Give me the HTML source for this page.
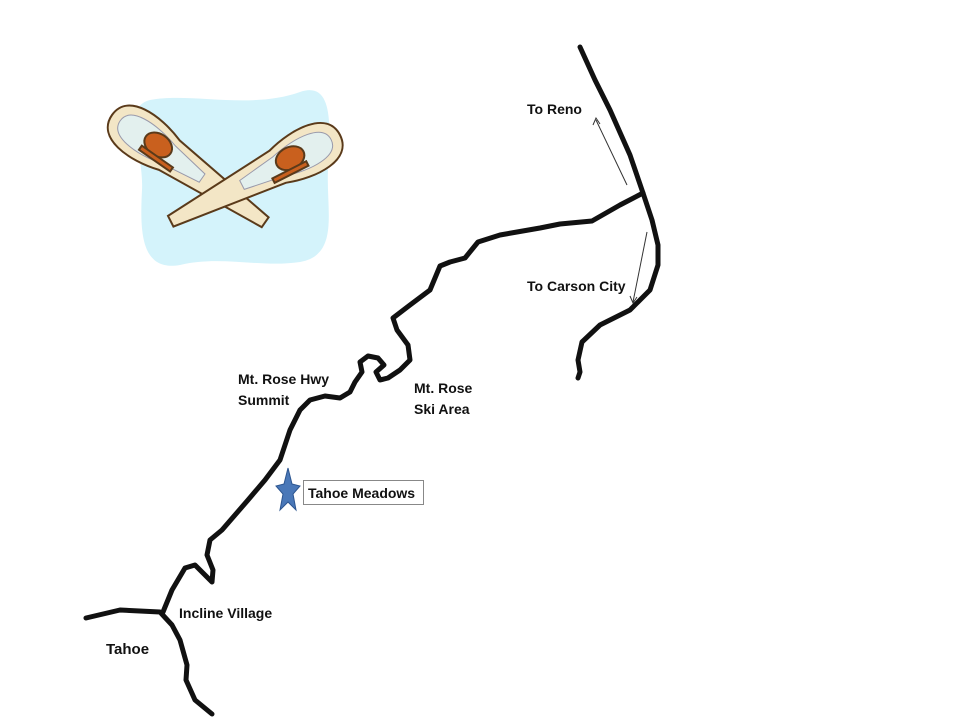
<!DOCTYPE html>
<html><head><meta charset="utf-8"><style>
body{margin:0;background:#fff;}
svg{display:block;}
text{font-family:"Liberation Sans",sans-serif;font-weight:bold;font-size:14px;fill:#111;}
</style></head><body>
<svg width="960" height="720" viewBox="0 0 960 720">
<!-- clipart -->
<path d="M150,100 C190,92 250,110 300,92 C335,80 330,130 328,170 C326,210 340,255 300,262 C260,268 220,255 180,265 C140,272 140,230 142,190 C144,150 120,108 150,100 Z" fill="#d4f3fb"/>
<g stroke="#5a3a1a" stroke-width="2">
<g transform="translate(112,115) rotate(35)">
<path d="M0,0 C0,-28 40,-28 70,-18 L187,-6 L187,6 L70,18 C40,28 0,28 0,0 Z" fill="#f3e6c6"/>
<path d="M10,0 C10,-18 40,-19 70,-11 L110,-5 L110,5 L70,11 C40,19 10,18 10,0 Z" fill="#e3f0ee" stroke="#99a" stroke-width="1"/>
<ellipse cx="55" cy="-2" rx="15" ry="11" fill="#c9601e"/>
<rect x="42" y="8" width="38" height="5" fill="#c9601e"/>
</g>
<g transform="translate(340,135) rotate(153)">
<path d="M0,0 C0,-28 40,-28 70,-18 L190,-6 L190,6 L70,18 C40,28 0,28 0,0 Z" fill="#f3e6c6"/>
<path d="M10,0 C10,-18 40,-19 70,-11 L110,-5 L110,5 L70,11 C40,19 10,18 10,0 Z" fill="#e3f0ee" stroke="#99a" stroke-width="1"/>
<ellipse cx="55" cy="2" rx="15" ry="11" fill="#c9601e"/>
<rect x="42" y="-13" width="38" height="5" fill="#c9601e"/>
</g>
</g>
<g fill="none" stroke="#111" stroke-width="5" stroke-linejoin="round" stroke-linecap="round">
<polyline points="580,47 595,80 610,110 630,155 643,193 652,220 658,245 658,265 650,290 630,310 600,325 582,342 578,360 580,372 578,378"/>
<polyline points="643,193 620,205 592,221 560,224 540,228 500,235 478,242 465,258 450,262 440,266 430,290 410,305 393,318 397,330 408,345 410,360 400,370 388,378 380,380 376,372 384,365 378,358 368,356 360,362 362,372 355,382 350,392 340,398 325,396 310,400 300,410 290,430 280,460 265,480 248,500 235,515 222,530 210,540 207,555 213,570 212,582 205,575 195,565 185,568 172,590 163,612"/>
<polyline points="86,618 120,610 160,612 172,625 180,640 187,665 186,680 195,700 212,714"/>
</g>
<g stroke="#333" stroke-width="1" fill="none">
<line x1="627" y1="185" x2="596" y2="120"/>
<polyline points="593,125 596,118 600,124"/>
<line x1="647" y1="232" x2="633" y2="302"/>
<polyline points="630,296 633,303 637,297"/>
</g>
<text x="527" y="114">To Reno</text>
<text x="527" y="291">To Carson City</text>
<text x="238" y="384">Mt. Rose Hwy</text>
<text x="238" y="405">Summit</text>
<text x="414" y="393">Mt. Rose</text>
<text x="414" y="414">Ski Area</text>
<text x="179" y="618">Incline Village</text>
<text x="106" y="654" style="font-size:15px">Tahoe</text>
<rect x="303.5" y="480.5" width="120" height="24" fill="#fff" stroke="#888"/>
<text x="308" y="498">Tahoe Meadows</text>
<polygon points="288,468 292,484 300,486 293,494 296,510 288,502 280,510 283,494 276,486 284,484" fill="#4a78b8" stroke="#2c5590" stroke-width="1"/>
</svg>
</body></html>
